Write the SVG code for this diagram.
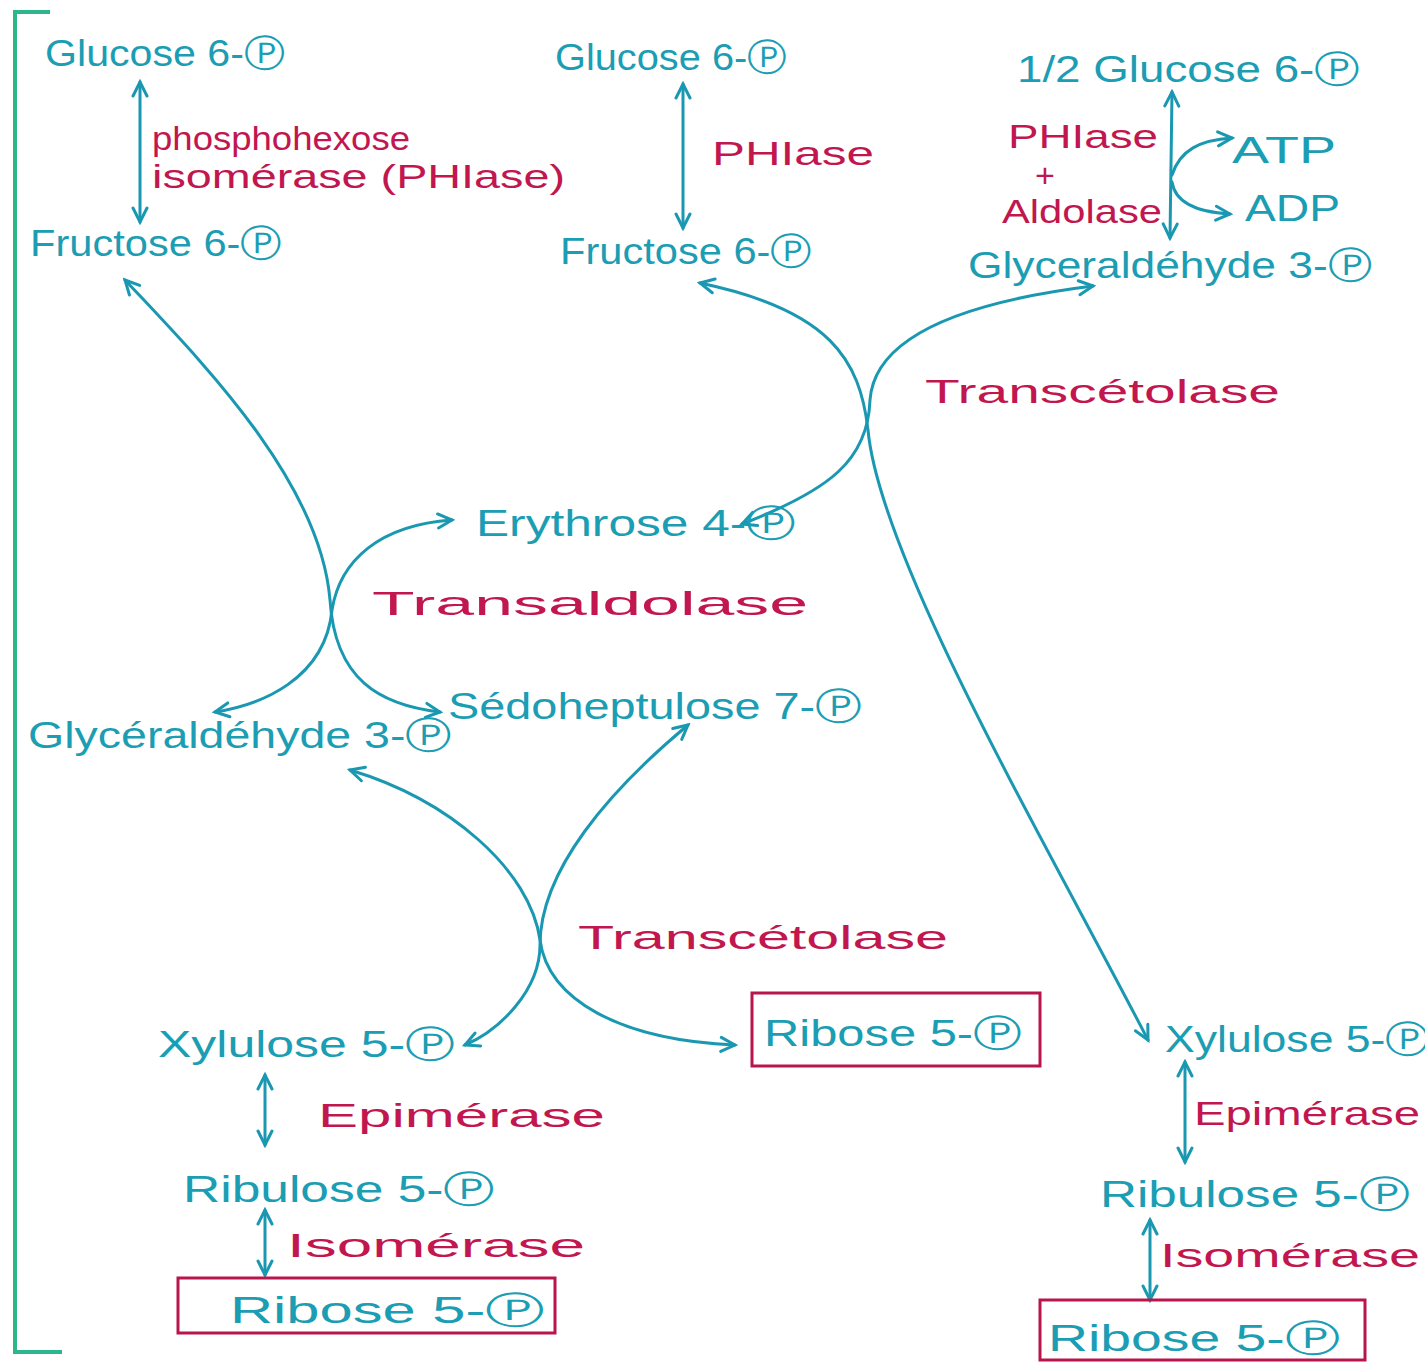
<svg xmlns="http://www.w3.org/2000/svg" width="1425" height="1366" viewBox="0 0 1425 1366">
<style>
.m{font-family:"Liberation Sans","DejaVu Sans",sans-serif;fill:#1b9db3;font-size:37px}
.e{font-family:"Liberation Sans","DejaVu Sans",sans-serif;fill:#c2164f;font-size:34px}
.c{fill:none;stroke:#1a98b2;stroke-width:3;stroke-linecap:round}
.box{fill:none;stroke:#b8154a;stroke-width:3}
</style>
<defs>
<marker id="ah" viewBox="0 0 20 20" refX="17" refY="10" markerWidth="20" markerHeight="20" markerUnits="userSpaceOnUse" orient="auto-start-reverse">
<path d="M3,3 L17,10 L3,17" fill="none" stroke="#1a98b2" stroke-width="3" stroke-linecap="round"/>
</marker>
</defs>
<rect width="1425" height="1366" fill="#ffffff"/>
<path d="M50,12 L15,12 L15,1352 L62,1352" fill="none" stroke="#2db58c" stroke-width="4"/>

<g id="connectors">
<path class="c" d="M140,82 L140,222" marker-start="url(#ah)" marker-end="url(#ah)"/>
<path class="c" d="M683,84 L683,228" marker-start="url(#ah)" marker-end="url(#ah)"/>
<path class="c" d="M1172,92 L1170,238" marker-start="url(#ah)" marker-end="url(#ah)"/>
<path class="c" d="M1172,175 C1180,150 1200,140 1232,138" marker-end="url(#ah)"/>
<path class="c" d="M1172,182 C1175,202 1195,212 1230,214" marker-end="url(#ah)"/>
<path class="c" d="M1148,1040 C1050,850 880,560 868,430 C860,360 830,310 700,283" marker-start="url(#ah)" marker-end="url(#ah)"/>
<path class="c" d="M742,524 C830,490 868,460 870,400 C875,330 980,300 1093,286" marker-start="url(#ah)" marker-end="url(#ah)"/>
<path class="c" d="M125,280 C200,360 320,480 330,600 C335,680 380,705 440,712" marker-start="url(#ah)" marker-end="url(#ah)"/>
<path class="c" d="M452,520 C380,525 340,560 332,610 C325,680 260,705 215,712" marker-start="url(#ah)" marker-end="url(#ah)"/>
<path class="c" d="M350,770 C450,800 530,870 540,940 C548,1000 620,1040 735,1045" marker-start="url(#ah)" marker-end="url(#ah)"/>
<path class="c" d="M688,725 C610,790 540,870 540,945 C540,990 500,1030 465,1045" marker-start="url(#ah)" marker-end="url(#ah)"/>
<path class="c" d="M265,1075 L265,1145" marker-start="url(#ah)" marker-end="url(#ah)"/>
<path class="c" d="M265,1210 L265,1275" marker-start="url(#ah)" marker-end="url(#ah)"/>
<path class="c" d="M1185,1062 L1185,1162" marker-start="url(#ah)" marker-end="url(#ah)"/>
<path class="c" d="M1150,1220 L1150,1300" marker-start="url(#ah)" marker-end="url(#ah)"/>
</g>

<g id="g6p-left"><text class="m" x="45" y="66" textLength="240" lengthAdjust="spacingAndGlyphs">Glucose 6-Ⓟ</text></g>
<g id="enz-phi-left">
<text class="e" x="152" y="150" font-size="31" textLength="258" lengthAdjust="spacingAndGlyphs">phosphohexose</text>
<text class="e" x="152" y="188" font-size="31" textLength="413" lengthAdjust="spacingAndGlyphs">isomérase (PHIase)</text>
</g>
<g id="f6p-left"><text class="m" x="30" y="256" textLength="252" lengthAdjust="spacingAndGlyphs">Fructose 6-Ⓟ</text></g>

<g id="g6p-mid"><text class="m" x="555" y="70" textLength="232" lengthAdjust="spacingAndGlyphs">Glucose 6-Ⓟ</text></g>
<g id="enz-phi-mid"><text class="e" x="712" y="165" font-size="40" textLength="162" lengthAdjust="spacingAndGlyphs">PHIase</text></g>
<g id="f6p-mid"><text class="m" x="560" y="264" textLength="252" lengthAdjust="spacingAndGlyphs">Fructose 6-Ⓟ</text></g>

<g id="g6p-right"><text class="m" x="1017" y="82" textLength="343" lengthAdjust="spacingAndGlyphs">1/2 Glucose 6-Ⓟ</text></g>
<g id="enz-phi-aldo">
<text class="e" x="1008" y="148" font-size="32" textLength="150" lengthAdjust="spacingAndGlyphs">PHIase</text>
<text class="e" x="1035" y="187" font-size="20">+</text>
<text class="e" x="1002" y="223" font-size="32" textLength="160" lengthAdjust="spacingAndGlyphs">Aldolase</text>
</g>
<g id="atp"><text class="m" x="1232" y="163" textLength="104" lengthAdjust="spacingAndGlyphs">ATP</text></g>
<g id="adp"><text class="m" x="1245" y="221" textLength="95" lengthAdjust="spacingAndGlyphs">ADP</text></g>
<g id="gap-right"><text class="m" x="968" y="278" textLength="404" lengthAdjust="spacingAndGlyphs">Glyceraldéhyde 3-Ⓟ</text></g>

<g id="enz-transcetolase-1"><text class="e" x="925" y="403" font-size="46" textLength="355" lengthAdjust="spacingAndGlyphs">Transcétolase</text></g>
<g id="e4p"><text class="m" x="476" y="536" textLength="320" lengthAdjust="spacingAndGlyphs">Erythrose 4-Ⓟ</text></g>
<g id="enz-transaldolase"><text class="e" x="372" y="615" font-size="46" textLength="436" lengthAdjust="spacingAndGlyphs">Transaldolase</text></g>
<g id="s7p"><text class="m" x="448" y="719" textLength="414" lengthAdjust="spacingAndGlyphs">Sédoheptulose 7-Ⓟ</text></g>
<g id="gap-left"><text class="m" x="28" y="748" textLength="424" lengthAdjust="spacingAndGlyphs">Glycéraldéhyde 3-Ⓟ</text></g>

<g id="enz-transcetolase-2"><text class="e" x="578" y="949" font-size="46" textLength="370" lengthAdjust="spacingAndGlyphs">Transcétolase</text></g>
<g id="x5p-left"><text class="m" x="158" y="1057" textLength="297" lengthAdjust="spacingAndGlyphs">Xylulose 5-Ⓟ</text></g>
<g id="r5p-mid"><rect class="box" x="752" y="993" width="288" height="73"/><text class="m" x="764" y="1046" textLength="258" lengthAdjust="spacingAndGlyphs">Ribose 5-Ⓟ</text></g>

<g id="enz-epi-left"><text class="e" x="318" y="1127" font-size="42" textLength="287" lengthAdjust="spacingAndGlyphs">Epimérase</text></g>
<g id="ru5p-left"><text class="m" x="183" y="1202" textLength="312" lengthAdjust="spacingAndGlyphs">Ribulose 5-Ⓟ</text></g>
<g id="enz-iso-left"><text class="e" x="287" y="1257" font-size="42" textLength="298" lengthAdjust="spacingAndGlyphs">Isomérase</text></g>
<g id="r5p-left"><rect class="box" x="178" y="1278" width="377" height="55"/><text class="m" x="230" y="1323" font-size="42" textLength="315" lengthAdjust="spacingAndGlyphs">Ribose 5-Ⓟ</text></g>

<g id="x5p-right"><text class="m" x="1165" y="1052" textLength="265" lengthAdjust="spacingAndGlyphs">Xylulose 5-Ⓟ</text></g>
<g id="enz-epi-right"><text class="e" x="1194" y="1125" font-size="33" textLength="226" lengthAdjust="spacingAndGlyphs">Epimérase</text></g>
<g id="ru5p-right"><text class="m" x="1100" y="1207" textLength="310" lengthAdjust="spacingAndGlyphs">Ribulose 5-Ⓟ</text></g>
<g id="enz-iso-right"><text class="e" x="1160" y="1267" font-size="33" textLength="260" lengthAdjust="spacingAndGlyphs">Isomérase</text></g>
<g id="r5p-right"><rect class="box" x="1040" y="1300" width="325" height="60"/><text class="m" x="1048" y="1351" font-size="40" textLength="292" lengthAdjust="spacingAndGlyphs">Ribose 5-Ⓟ</text></g>
</svg>
